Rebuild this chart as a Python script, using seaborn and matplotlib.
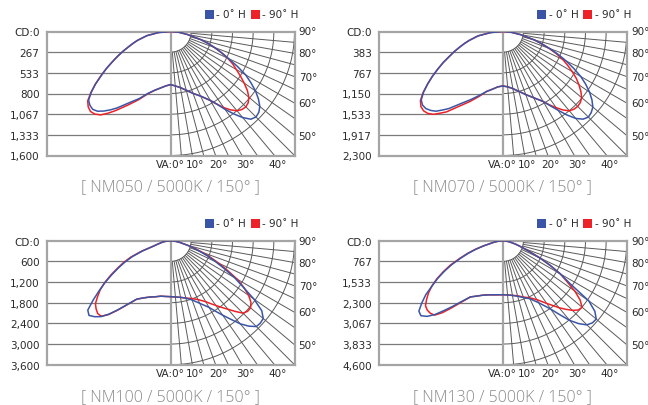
import numpy as np
import pandas as pd
import matplotlib.pyplot as plt
import seaborn as sns
from matplotlib.patches import Rectangle

W, H = 648, 406

# vertical angle of each reading, 0 = straight down (denser where the lobes turn)
ANGLES = [-90, -85, -80, -75, -72.5, -70, -67.5, -65, -62.5, -60, -57.5, -55,
          -52.5, -50, -47.5, -45, -42.5, -40, -37.5, -35, -30, -25, -20, -15,
          -10, -5, 0, 5, 10, 15, 20, 25, 30, 32.5, 35, 37.5, 40, 42.5, 45,
          47.5, 50, 52.5, 55, 57.5, 60, 62.5, 65, 67.5, 70, 72.5, 75, 80, 85, 90]

MODELS  = ["NM050", "NM070", "NM100", "NM130"]
CD_MAX  = [1600, 2300, 3600, 4600]
CD_LABELS = [
    ["CD:0", "267", "533", "800", "1,067", "1,333", "1,600"],
    ["CD:0", "383", "767", "1,150", "1,533", "1,917", "2,300"],
    ["CD:0", "600", "1,200", "1,800", "2,400", "3,000", "3,600"],
    ["CD:0", "767", "1,533", "2,300", "3,067", "3,833", "4,600"],
]
SERIES = ["- 0˚ H", "- 90˚ H"]
RIGHT_ANGLES  = [90, 80, 70, 60, 50]
BOTTOM_ANGLES = [0, 10, 20, 30, 40]

# candela readings per angle
NM050_0H  = [0, 155, 310, 440, 505, 575, 660, 750, 845, 955, 1060, 1180,
             1290, 1380, 1410, 1420, 1395, 1340, 1275, 1205, 1060, 955, 850, 785,
             740, 705, 685, 705, 735, 785, 850, 920, 1025, 1110, 1225, 1340, 1450, 1535, 1560,
             1545, 1505, 1430, 1340, 1230, 1120, 970, 825, 710, 605, 505, 405, 220, 105, 0]
NM050_90H = [0, 155, 310, 440, 505, 575, 660, 750, 845, 955, 1065, 1185,
             1295, 1395, 1440, 1460, 1445, 1405, 1330, 1250, 1095, 970, 855, 785,
             740, 705, 685, 705, 735, 785, 850, 920, 1030, 1110, 1200, 1275, 1335, 1365, 1375,
             1360, 1320, 1250, 1160, 1070, 980, 905, 815, 710, 605, 505, 405, 220, 105, 0]
NM070_0H  = [0, 225, 465, 650, 750, 855, 975, 1095, 1245, 1390, 1550, 1705,
             1855, 1975, 2020, 2020, 1985, 1930, 1835, 1745, 1540, 1390, 1260, 1150,
             1085, 1030, 1010, 1030, 1075, 1150, 1245, 1355, 1500, 1630, 1780, 1950, 2105, 2205, 2245,
             2225, 2180, 2085, 1965, 1825, 1670, 1485, 1300, 1115, 930, 760, 610, 335, 150, 0]
NM070_90H = [0, 225, 465, 650, 750, 855, 975, 1095, 1245, 1390, 1550, 1705,
             1865, 1995, 2060, 2080, 2060, 2005, 1910, 1820, 1595, 1430, 1280, 1150,
             1085, 1030, 1010, 1030, 1075, 1150, 1245, 1355, 1500, 1615, 1725, 1835, 1920, 1955, 1965,
             1950, 1910, 1825, 1725, 1615, 1485, 1355, 1225, 1075, 910, 750, 605, 335, 150, 0]
NM100_0H  = [0, 115, 230, 375, 495, 840, 1190, 1450, 1700, 1960, 2250, 2525,
             2830, 3135, 3210, 3120, 2990, 2785, 2540, 2310, 1960, 1830, 1740, 1685,
             1635, 1625, 1625, 1640, 1670, 1725, 1830, 2005, 2235, 2425, 2640, 2875, 3150, 3365, 3525,
             3540, 3515, 3340, 2960, 2495, 2150, 1770, 1450, 1190, 900, 710, 510, 260, 115, 0]
NM100_90H = [0, 115, 230, 390, 520, 900, 1250, 1510, 1740, 2005, 2265, 2495,
             2670, 2845, 2930, 2990, 2975, 2800, 2555, 2320, 1960, 1830, 1740, 1685,
             1635, 1625, 1625, 1640, 1670, 1725, 1785, 1885, 2045, 2165, 2295, 2440, 2600, 2785, 2975,
             3035, 3035, 2945, 2770, 2525, 2235, 1860, 1540, 1250, 960, 740, 525, 260, 115, 0]
NM130_0H  = [0, 150, 335, 725, 1040, 1355, 1690, 2080, 2430, 2785, 3100, 3485,
             3785, 4065, 4120, 3970, 3710, 3375, 3080, 2805, 2410, 2265, 2150, 2080,
             2040, 2015, 2005, 2020, 2060, 2135, 2245, 2375, 2655, 2855, 3100, 3450, 3860, 4175, 4415,
             4510, 4525, 4305, 3895, 2950, 2465, 1965, 1520, 1075, 815, 630, 480, 260, 110, 0]
NM130_90H = [0, 150, 335, 740, 1075, 1410, 1745, 2150, 2485, 2820, 3115, 3360,
             3560, 3745, 3805, 3805, 3745, 3485, 3155, 2855, 2410, 2265, 2150, 2080,
             2040, 2015, 2005, 2020, 2060, 2115, 2225, 2335, 2525, 2670, 2840, 3025, 3245, 3450, 3655,
             3805, 3840, 3615, 3265, 2820, 2465, 1985, 1540, 1115, 835, 630, 480, 260, 110, 0]

CURVES = [(NM050_0H, NM050_90H), (NM070_0H, NM070_90H),
          (NM100_0H, NM100_90H), (NM130_0H, NM130_90H)]

BLUE = "#3a55a6"
RED  = "#ec2228"
FRAME = "#a5a5a5"
GRID  = "#5a5a5a"

# panel layout in pixels: centre of VA:0 line and top of the frame
PANEL_CX  = [170.5, 502.8, 170.5, 502.8]
PANEL_TOP = [32.5, 32.5, 241.7, 241.7]
BOX = 124

sns.set_style("white")
plt.rcParams["font.family"] = ["DejaVu Sans"]

fig = plt.figure(figsize=(W / 100, H / 100), dpi=100)


def draw_grid(ax, R):
    step = R / 6
    for k in range(1, 6):
        ax.plot([-R, 0], [-k * step, -k * step], color="#7a7a7a", lw=0.9, zorder=1)
    t = np.radians(np.linspace(0, 90, 120))
    for k in range(1, 7):
        ax.plot(k * step * np.sin(t), -k * step * np.cos(t), color=GRID, lw=0.7, zorder=1)
    for a in range(5, 90, 5):
        ta = np.radians(a)
        ax.plot([step * np.sin(ta), 2 * R * np.sin(ta)],
                [-step * np.cos(ta), -2 * R * np.cos(ta)], color=GRID, lw=0.7, zorder=1)
    ax.axvline(0, color=FRAME, lw=1.6, zorder=2)


for i in range(4):
    cx, top, R = PANEL_CX[i], PANEL_TOP[i], CD_MAX[i]
    ax = fig.add_axes([(cx - BOX) / W, (H - top - BOX) / H, 2 * BOX / W, BOX / H])
    draw_grid(ax, R)

    blue, red = CURVES[i]
    assert len(blue) == len(ANGLES) and len(red) == len(ANGLES)
    rows = []
    for name, vals in ((SERIES[1], red), (SERIES[0], blue)):
        for a, v in zip(ANGLES, vals):
            t = np.radians(a)
            rows.append({"series": name, "x": v * np.sin(t), "y": -v * np.cos(t)})
    df = pd.DataFrame(rows)
    sns.lineplot(data=df, x="x", y="y", hue="series", hue_order=[SERIES[1], SERIES[0]],
                 palette={SERIES[0]: BLUE, SERIES[1]: RED}, sort=False,
                 estimator=None, legend=False, lw=1.1, ax=ax, zorder=3)

    ax.set_xlim(-R, R)
    ax.set_ylim(-R, 0)
    ax.set_xlabel("")
    ax.set_ylabel("")
    ax.set_xticks([])
    ax.set_yticks([-k * R / 6 for k in range(7)], CD_LABELS[i])
    ax.tick_params(axis="y", length=0, pad=5, labelsize=7.5, labelcolor="#2a2a2a")
    for s in ax.spines.values():
        s.set_color(FRAME)
        s.set_linewidth(1.6)

    for a in RIGHT_ANGLES:
        y = -R / np.tan(np.radians(a)) if a < 90 else 0
        ax.annotate(f"{a}°", (R, y), xytext=(3, 0), textcoords="offset points",
                    ha="left", va="center", fontsize=7.5, color="#2a2a2a",
                    annotation_clip=False)
    for a in BOTTOM_ANGLES:
        x = R * np.tan(np.radians(a))
        lab = "VA:0°" if a == 0 else f"{a}°"
        ax.annotate(lab, (x, -R), xytext=(0 if a == 0 else 2, -2.5),
                    textcoords="offset points", ha="center", va="top",
                    fontsize=7.5, color="#2a2a2a", annotation_clip=False)

    # legend boxes
    ly = top - 17.5
    for dx, col, lab in ((34, BLUE, SERIES[0]), (80, RED, SERIES[1])):
        fig.add_artist(Rectangle(((cx + dx) / W, 1 - (ly + 4.5) / H), 9 / W, 9 / H,
                                 transform=fig.transFigure, color=col, lw=0))
        fig.text((cx + dx + 12) / W, 1 - ly / H, lab, ha="left", va="center",
                 fontsize=7.5, color="#2a2a2a")

    fig.text(cx / W, 1 - (top + BOX + 31) / H, f"[ {MODELS[i]} / 5000K / 150° ]",
             ha="center", va="center", fontsize=11.5, color="#8a8a8a",
             family=["Open Sans", "DejaVu Sans"], fontweight="light")

fig.savefig("out.png", dpi=100)
